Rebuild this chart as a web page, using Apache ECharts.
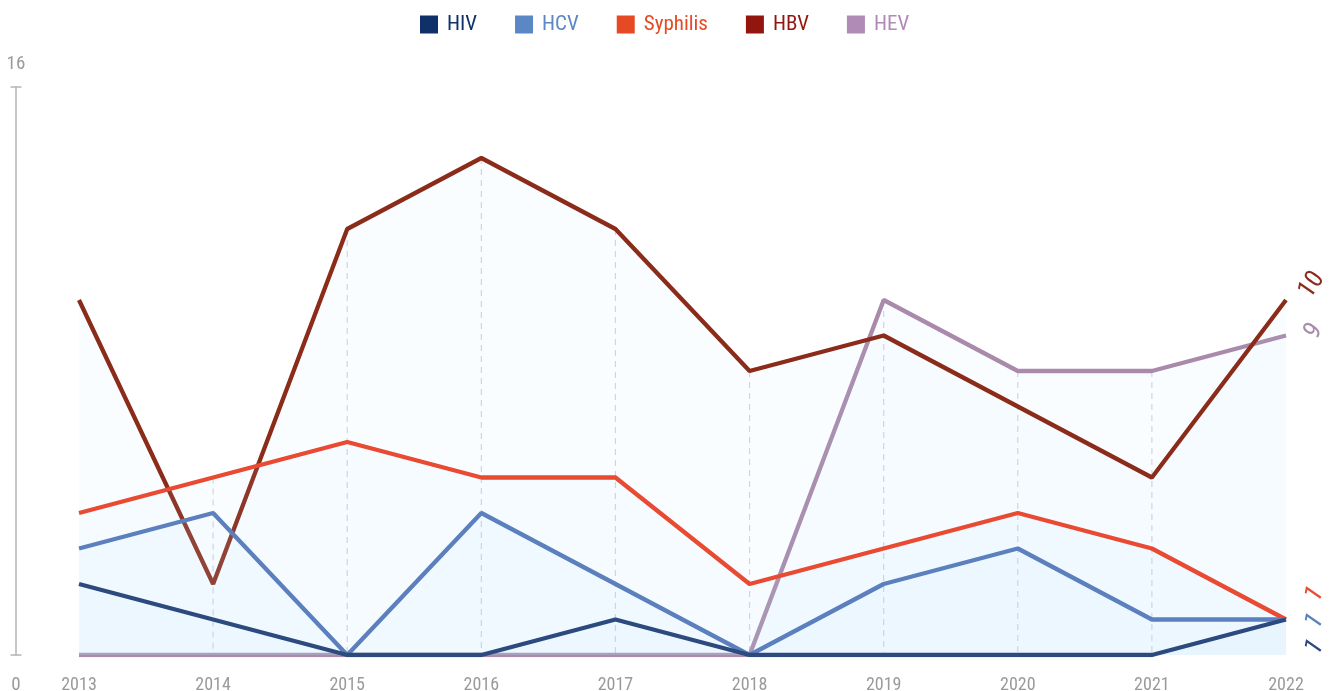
<!DOCTYPE html>
<html>
<head>
<meta charset="utf-8">
<script src="https://cdn.jsdelivr.net/npm/echarts@6/dist/echarts.min.js"></script>
<style>
html,body{margin:0;padding:0;background:#fff;}
#chart{width:1333px;height:691px;}
</style>
</head>
<body>
<div id="chart"></div>
<script>
const years = ['2013','2014','2015','2016','2017','2018','2019','2020','2021','2022'];
const hiv      = [2, 1, 0, 0, 1, 0, 0, 0, 0, 1];
const hcv      = [3, 4, 0, 4, 2, 0, 2, 3, 1, 1];
const syphilis = [4, 5, 6, 5, 5, 2, 3, 4, 3, 1];
const hbv      = [10, 2, 12, 14, 12, 8, 9, 7, 5, 10];
const hev      = [0, 0, 0, 0, 0, 0, 10, 8, 8, 9];
const yTicks = [0, 16];

const FONT = '"Roboto Condensed", "Liberation Sans Narrow", "Roboto", sans-serif';

const seriesDefs = [
  {name:'HEV', data:hev, legend:'#b08bb5', line:'#a98aab', labelPos:[28,-4]},
  {name:'HBV', data:hbv, legend:'#93160e', line:'#8b2b19', labelPos:[26,-15]},
  {name:'Syphilis', data:syphilis, legend:'#e64a24', line:'#e84a32', labelPos:[29,-25]},
  {name:'HCV', data:hcv, legend:'#5b87c5', line:'#5b80bd', labelPos:[29,2]},
  {name:'HIV', data:hiv, legend:'#0f3069', line:'#2c4a7e', labelPos:[29,28]}
];
const legendOrder = ['HIV','HCV','Syphilis','HBV','HEV'];

const maxVals = years.map((y,i)=>Math.max(hiv[i],hcv[i],syphilis[i],hbv[i],hev[i]));
const guideData = [];
for (let i = 1; i < years.length - 1; i++) guideData.push([i, maxVals[i]]);

const series = [{
  type:'custom',
  name:'guides',
  z:1,
  silent:true,
  data: guideData,
  renderItem:function(params, api){
    const top = api.coord([api.value(0), api.value(1)]);
    const bot = api.coord([api.value(0), 0]);
    return {type:'line', shape:{x1:top[0],y1:top[1],x2:bot[0],y2:bot[1]},
      style:{stroke:'#d2d6da', lineWidth:1.2, lineDash:[6,5]}};
  }
}];
seriesDefs.forEach(function(s, k){
  const last = s.data.length - 1;
  series.push({
    type:'line',
    name:s.name,
    z:2+k,
    symbol:'circle',
    symbolSize:0,
    showSymbol:true,
    silent:true,
    itemStyle:{color:s.legend},
    lineStyle:{color:s.line, width:4.3},
    areaStyle:{color:'rgba(190,225,250,0.1)'},
    data:s.data.map(function(v,i){
      if (i !== last) return v;
      return {value:v, label:{show:true, position:s.labelPos, rotate:55, align:'center', verticalAlign:'middle',
        color:s.line, fontSize:26, fontFamily:FONT, formatter:'{c}'}};
    })
  });
});

const chart = echarts.init(document.getElementById('chart'));
chart.setOption({
  animation:false,
  backgroundColor:'#fff',
  legend:{
    top:14, left:420, padding:0,
    icon:'rect', itemWidth:18, itemHeight:18, itemGap:38,
    textStyle:{fontSize:21, fontFamily:FONT, padding:[0,0,0,4]},
    data:legendOrder.map(function(n){
      const d = seriesDefs.find(function(s){return s.name===n;});
      return {name:n, itemStyle:{color:d.legend}, textStyle:{color:d.legend}};
    })
  },
  grid:{left:79, right:47, top:87, bottom:36, outerBoundsMode:'none', containLabel:false},
  xAxis:{
    type:'category', data:years, boundaryGap:false,
    axisLine:{show:false}, axisTick:{show:false}, splitLine:{show:false},
    axisLabel:{color:'#9a9a9a', fontSize:18, fontFamily:FONT, margin:21}
  },
  yAxis:{
    type:'value', min:yTicks[0], max:yTicks[1], interval:yTicks[1]-yTicks[0], offset:63,
    splitLine:{show:false}, axisTick:{show:false},
    axisLine:{show:true, lineStyle:{color:'#b5b5b5', width:1.5}, symbol:['rect','rect'], symbolSize:[11,1.5]},
    axisLabel:{
      margin:0, align:'center', color:'#9a9a9a', fontSize:19, fontFamily:FONT,
      formatter:function(v){ return v === yTicks[1] ? '{top|' + v + '}' : '{bot|' + v + '}'; },
      rich:{
        top:{padding:[0,0,46,0], color:'#9a9a9a', fontSize:19, fontFamily:FONT},
        bot:{padding:[60,0,0,0], color:'#9a9a9a', fontSize:19, fontFamily:FONT}
      }
    }
  },
  series:series
});
</script>
</body>
</html>
